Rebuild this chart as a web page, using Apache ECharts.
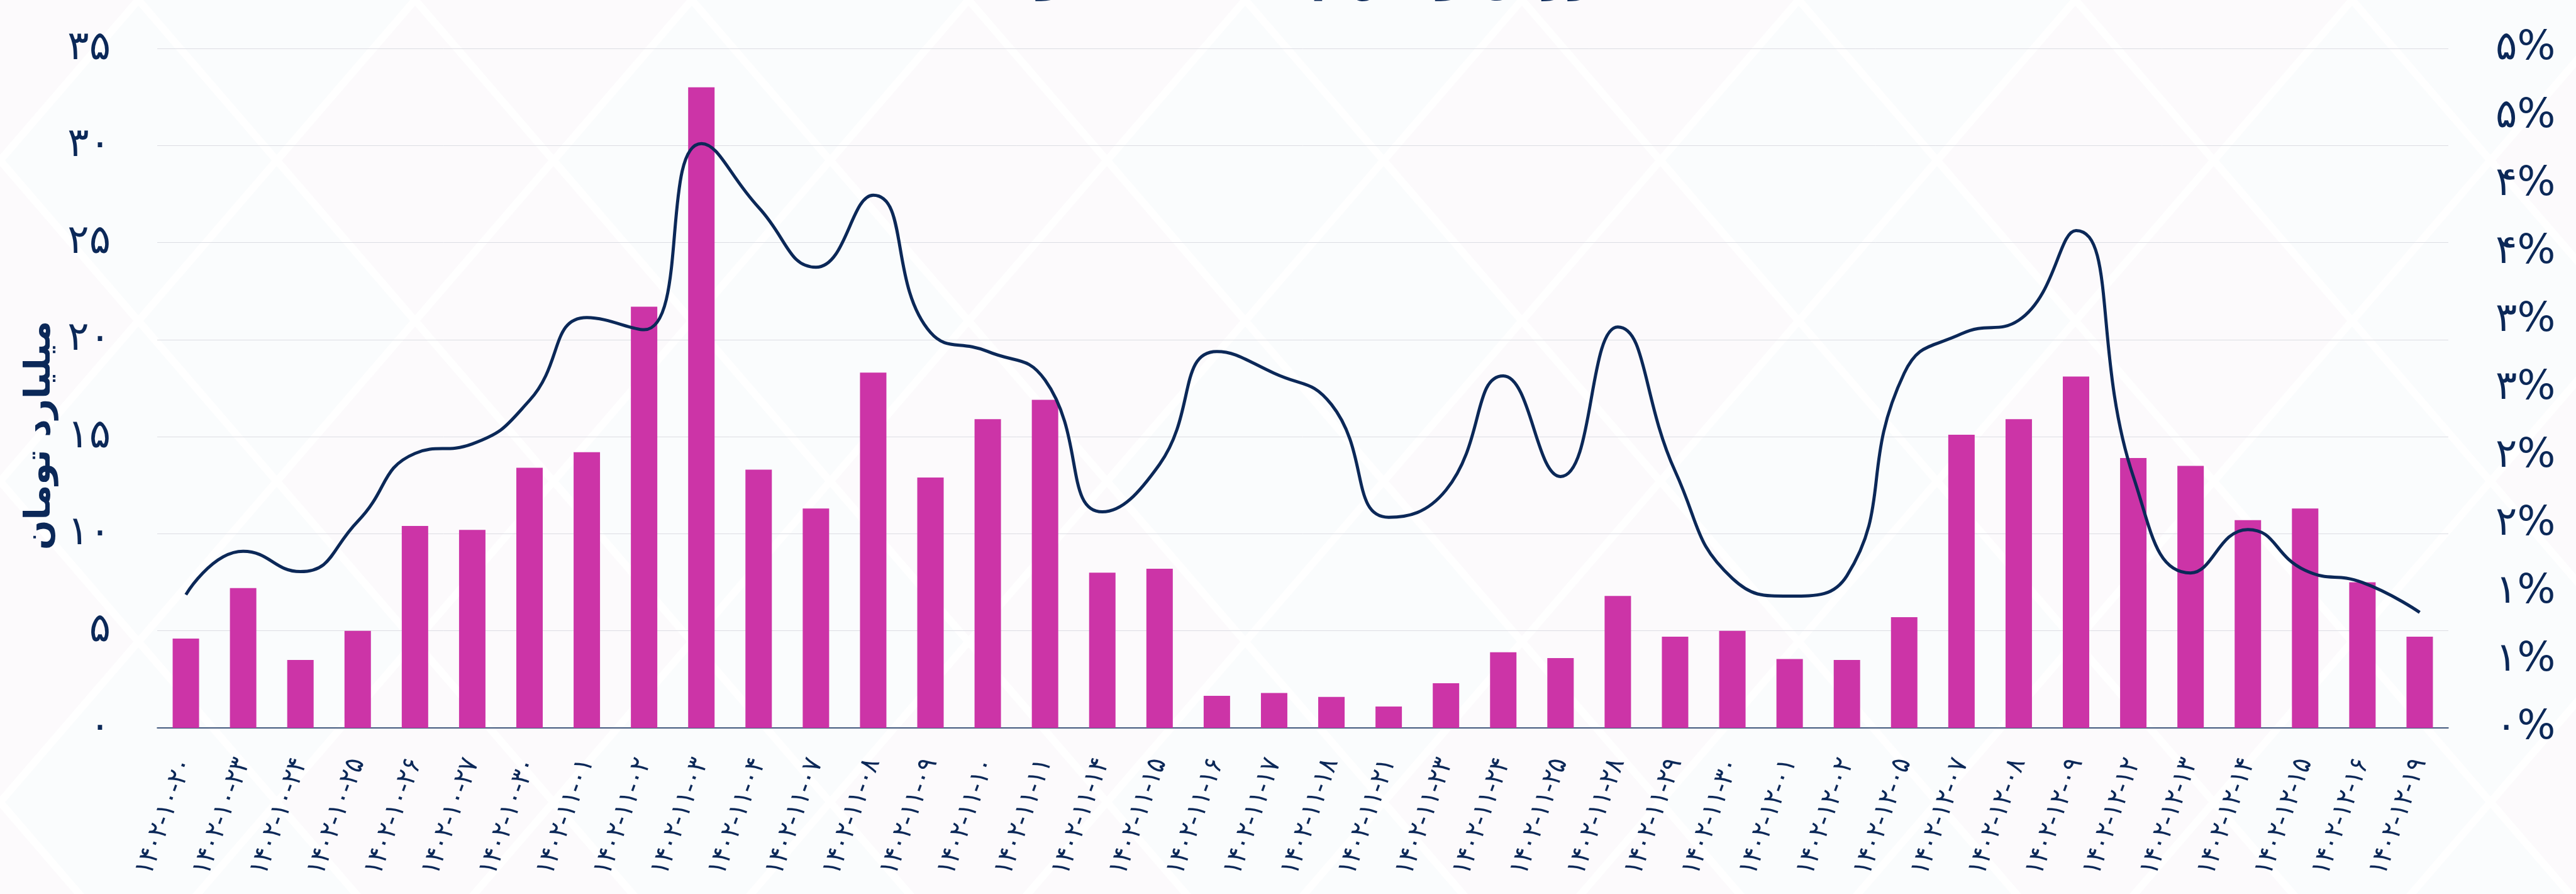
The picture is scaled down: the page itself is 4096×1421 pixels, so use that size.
<!DOCTYPE html>
<html>
<head>
<meta charset="utf-8">
<script src="https://cdn.jsdelivr.net/npm/echarts@6/dist/echarts.min.js"></script>
<style>
  html, body { margin: 0; padding: 0; background: #ffffff; }
  #chart { width: 4096px; height: 1421px; }
</style>
</head>
<body>
<div id="chart"></div>
<script>
// dates (shamsi), traded value in billion toman, share in percent
const dates = [
  '1402-10-20', '1402-10-23', '1402-10-24', '1402-10-25', '1402-10-26', '1402-10-27', '1402-10-30',
  '1402-11-01', '1402-11-02', '1402-11-03', '1402-11-04', '1402-11-07', '1402-11-08', '1402-11-09',
  '1402-11-10', '1402-11-11', '1402-11-14', '1402-11-15', '1402-11-16', '1402-11-17', '1402-11-18',
  '1402-11-21', '1402-11-23', '1402-11-24', '1402-11-25', '1402-11-28', '1402-11-29', '1402-11-30',
  '1402-12-01', '1402-12-02', '1402-12-05', '1402-12-07', '1402-12-08', '1402-12-09', '1402-12-12',
  '1402-12-13', '1402-12-14', '1402-12-15', '1402-12-16', '1402-12-19'
];
const tradeValue = [
  4.6, 7.2, 3.5, 5.0, 10.4, 10.2, 13.4, 14.2, 21.7, 33.0,
  13.3, 11.3, 18.3, 12.9, 15.9, 16.9, 8.0, 8.2, 1.65, 1.8,
  1.6, 1.1, 2.3, 3.9, 3.6, 6.8, 4.7, 5.0, 3.55, 3.5,
  5.7, 15.1, 15.9, 18.1, 13.9, 13.5, 10.7, 11.3, 7.5, 4.7
];
const sharePct = [
  0.98, 1.30, 1.15, 1.52, 2.02, 2.09, 2.41, 3.02, 2.93, 4.30,
  3.83, 3.39, 3.92, 2.91, 2.77, 2.56, 1.59, 1.94, 2.77, 2.61,
  2.38, 1.55, 1.75, 2.59, 1.85, 2.95, 1.89, 1.10, 0.97, 1.12,
  2.61, 2.90, 3.00, 3.66, 1.85, 1.14, 1.46, 1.16, 1.07, 0.85
];
const leftTicks = { min: 0, max: 35, interval: 5 };
const rightTicks = { min: 0, max: 5, interval: 0.5 };

const navy = '#0b2858';
const faFont = "'DejaVu Sans', sans-serif";
const fa = s => String(s).replace(/\d/g, d => '۰۱۲۳۴۵۶۷۸۹'[d]);

// faint diamond watermark behind the chart
const bg = [];
for (let j = -1; j < 7; j++) {
  for (let i = -1; i < 11; i++) {
    const cx = 440 * i + (j % 2 ? 220 : 0);
    const cy = 255 * j;
    const a = 212, b = 246;
    bg.push({
      type: 'polygon',
      silent: true,
      z: -10,
      shape: { points: [[cx, cy - b], [cx + a, cy], [cx, cy + b], [cx - a, cy]] },
      style: { fill: (i + j) % 2 ? 'rgba(236,243,248,0.28)' : 'rgba(244,236,244,0.28)' }
    });
  }
}

const chart = echarts.init(document.getElementById('chart'));
chart.setOption({
  backgroundColor: '#ffffff',
  animation: false,
  title: {
    text: 'ارزش و سهم معاملات بلوکی',
    left: 'center',
    top: -76,
    textStyle: { color: navy, fontFamily: faFont, fontWeight: 'bold', fontSize: 72 }
  },
  graphic: bg,
  grid: { left: 250, right: 203, top: 77, bottom: 264, outerBoundsMode: 'none' },
  xAxis: {
    type: 'category',
    data: dates,
    axisLine: { lineStyle: { color: navy, width: 1.5 } },
    axisTick: { length: 18, lineStyle: { color: navy, width: 1 } },
    axisLabel: {
      interval: 0,
      rotate: 70,
      margin: 50,
      color: navy,
      fontSize: 43,
      fontFamily: "'DejaVu Sans Condensed', 'DejaVu Sans', sans-serif",
      formatter: v => fa(v)
    }
  },
  yAxis: [
    {
      type: 'value',
      min: leftTicks.min,
      max: leftTicks.max,
      interval: leftTicks.interval,
      name: 'میلیارد تومان',
      nameLocation: 'middle',
      nameGap: 158,
      nameTextStyle: {
        color: navy, fontFamily: faFont, fontWeight: 'bold', fontSize: 56,
        padding: [0, 150, 0, 0]
      },
      axisLine: { show: false },
      axisTick: { show: false },
      axisLabel: { color: navy, fontSize: 64, fontFamily: faFont, margin: 74, formatter: v => fa(v) },
      splitLine: { lineStyle: { color: '#dcdde3', width: 1 } }
    },
    {
      type: 'value',
      min: rightTicks.min,
      max: rightTicks.max,
      interval: rightTicks.interval,
      position: 'right',
      axisLine: { show: false },
      axisTick: { show: false },
      splitLine: { show: false },
      axisLabel: {
        color: navy, fontSize: 64, fontFamily: faFont, margin: 75,
        formatter: v => fa(Math.round(v)) + '%'
      }
    }
  ],
  series: [
    {
      name: 'ارزش معاملات',
      type: 'bar',
      data: tradeValue,
      barWidth: 42,
      itemStyle: { color: '#cc34a7' }
    },
    {
      name: 'سهم',
      type: 'line',
      yAxisIndex: 1,
      data: sharePct,
      smooth: 0.5,
      showSymbol: false,
      lineStyle: { color: navy, width: 5 },
      z: 5
    }
  ]
});
</script>
</body>
</html>
